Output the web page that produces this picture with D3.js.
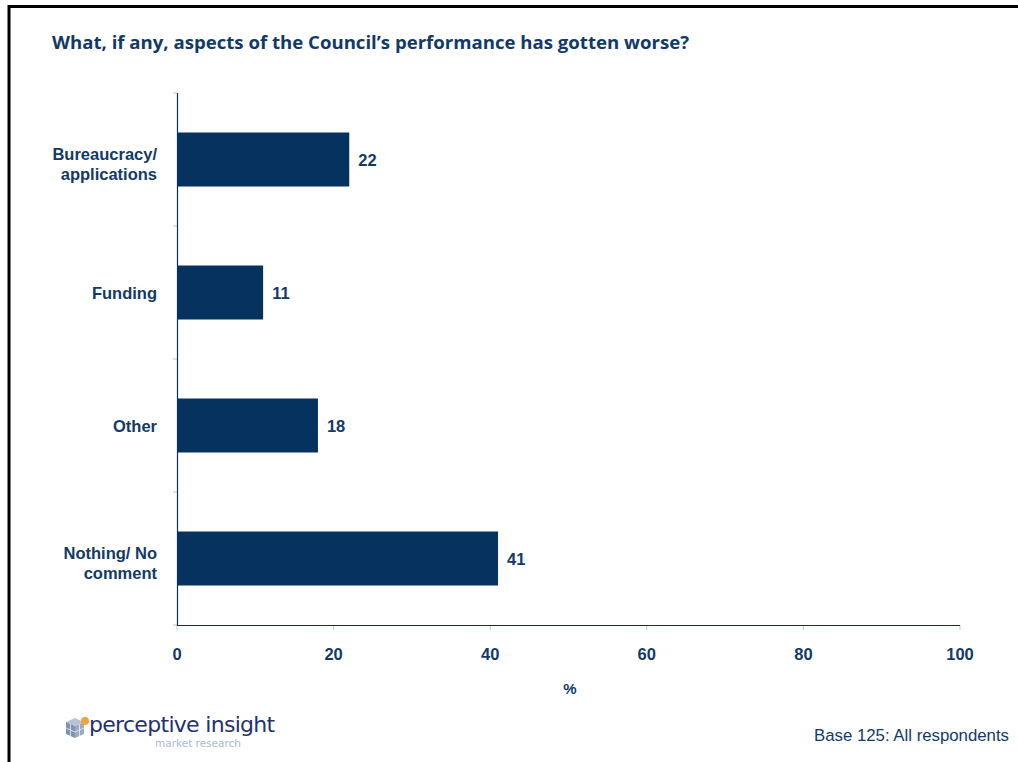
<!DOCTYPE html>
<html>
<head>
<meta charset="utf-8">
<script src="https://cdn.jsdelivr.net/npm/d3@7"></script>
<style>
  html, body { margin: 0; padding: 0; background: #ffffff; }
  svg { display: block; }
</style>
</head>
<body>
<svg id="chart" width="1018" height="762"></svg>
<script>
// Survey responses: aspects of Council performance that have gotten worse (%)
const categories = ["Bureaucracy/\napplications", "Funding", "Other", "Nothing/ No\ncomment"];
const values = [22, 11, 18, 41];
const xTicks = [0, 20, 40, 60, 80, 100];

const navy = "#06325f";
const textNavy = "#123a68";
const tickGrey = "#b9c6d6";

const svg = d3.select("#chart");

// Slide frame (black border along top and left)
svg.append("line").attr("x1", 8).attr("x2", 1018).attr("y1", 6.5).attr("y2", 6.5)
  .attr("stroke", "#000").attr("stroke-width", 3);
svg.append("line").attr("x1", 9).attr("x2", 9).attr("y1", 5).attr("y2", 762)
  .attr("stroke", "#000").attr("stroke-width", 3);

// Question title
svg.append("text")
  .attr("x", 52).attr("y", 49)
  .attr("font-family", "'Open Sans', 'Noto Sans', sans-serif")
  .attr("font-weight", 700).attr("font-size", 18.6)
  .attr("fill", textNavy)
  .text("What, if any, aspects of the Council\u2019s performance has gotten worse?");

const x = d3.scaleLinear().domain([0, 100]).range([177, 960]);
const y = d3.scaleBand().domain(categories).range([93, 625])
  .paddingInner(0.594).paddingOuter(0.297);

// Bars
svg.append("g").selectAll("rect")
  .data(categories)
  .join("rect")
  .attr("x", x(0))
  .attr("y", d => y(d))
  .attr("width", (d, i) => x(values[i]) - x(0))
  .attr("height", y.bandwidth())
  .attr("fill", navy);

// Value labels
svg.append("g").selectAll("text")
  .data(categories)
  .join("text")
  .attr("x", (d, i) => x(values[i]) + 9)
  .attr("y", d => y(d) + y.bandwidth() / 2 + 6)
  .attr("font-family", "'Liberation Sans', Arial, sans-serif")
  .attr("font-weight", 700).attr("font-size", 16.5)
  .attr("fill", textNavy)
  .text((d, i) => values[i]);

// Category axis: ticks at band boundaries
const step = y.step();
const boundaries = d3.range(categories.length + 1).map(i => 93 + i * step);
svg.append("g").selectAll("line")
  .data(boundaries)
  .join("line")
  .attr("x1", 173).attr("x2", 177.5)
  .attr("y1", d => d).attr("y2", d => d)
  .attr("stroke", tickGrey).attr("stroke-width", 1);

// Category labels (right-aligned, possibly two lines)
const catLabels = svg.append("g").selectAll("text")
  .data(categories)
  .join("text")
  .attr("text-anchor", "end")
  .attr("font-family", "'Liberation Sans', Arial, sans-serif")
  .attr("font-weight", 700).attr("font-size", 16.5)
  .attr("fill", textNavy);
catLabels.each(function (d) {
  const lines = d.split("\n");
  const cy = y(d) + y.bandwidth() / 2;
  const lh = 20;
  const shift = lines.length > 1 ? 4 : 0;
  const t = d3.select(this);
  lines.forEach((ln, k) => {
    t.append("tspan")
      .attr("x", 157)
      .attr("y", cy + 6 + shift + (k - (lines.length - 1) / 2) * lh)
      .text(ln);
  });
});

// X axis ticks
svg.append("g").selectAll("line")
  .data(xTicks)
  .join("line")
  .attr("x1", d => x(d)).attr("x2", d => x(d))
  .attr("y1", 625).attr("y2", 630)
  .attr("stroke", tickGrey).attr("stroke-width", 1);

svg.append("g").selectAll("text")
  .data(xTicks)
  .join("text")
  .attr("x", d => x(d))
  .attr("y", 660)
  .attr("text-anchor", "middle")
  .attr("font-family", "'Liberation Sans', Arial, sans-serif")
  .attr("font-weight", 700).attr("font-size", 16.5)
  .attr("fill", textNavy)
  .text(d => d);

// Axis lines
svg.append("line").attr("x1", 177.5).attr("x2", 177.5).attr("y1", 93).attr("y2", 625.5)
  .attr("stroke", navy).attr("stroke-width", 1.2);
svg.append("line").attr("x1", 177).attr("x2", 960).attr("y1", 625.5).attr("y2", 625.5)
  .attr("stroke", navy).attr("stroke-width", 1.2);

// Axis title
svg.append("text")
  .attr("x", 570).attr("y", 694)
  .attr("text-anchor", "middle")
  .attr("font-family", "'Liberation Sans', Arial, sans-serif")
  .attr("font-weight", 700).attr("font-size", 15)
  .attr("fill", textNavy)
  .text("%");

// Base note
svg.append("text")
  .attr("x", 1009).attr("y", 741)
  .attr("text-anchor", "end")
  .attr("font-family", "'Liberation Sans', Arial, sans-serif")
  .attr("font-size", 16.8)
  .attr("fill", textNavy)
  .text("Base 125: All respondents");

// Company logo: stacked cube icon with wordmark
const logo = svg.append("g").attr("transform", "translate(66,717)");
const faces = [
  { pts: "0,5 9,1 18,5 9,9", fill: "#b8c4d4" },
  { pts: "0,5 9,9 9,21 0,17", fill: "#7f93ad" },
  { pts: "9,9 18,5 18,17 9,21", fill: "#9aabc2" }
];
logo.selectAll("polygon").data(faces).join("polygon")
  .attr("points", d => d.pts).attr("fill", d => d.fill);
logo.append("path").attr("d", "M4.5,7 L4.5,19 M0,11 L9,15 L18,11 M13.5,7 L13.5,19")
  .attr("stroke", "#e8edf3").attr("stroke-width", 0.8).attr("fill", "none");
logo.append("circle").attr("cx", 19).attr("cy", 4).attr("r", 4).attr("fill", "#f2a23a");

svg.append("text")
  .attr("x", 89).attr("y", 732)
  .attr("font-family", "'DejaVu Sans', Verdana, sans-serif")
  .attr("font-size", 22)
  .attr("letter-spacing", -0.7)
  .attr("fill", "#25306f")
  .text("perceptive insight");
svg.append("text")
  .attr("x", 155).attr("y", 747)
  .attr("font-family", "'DejaVu Sans', Verdana, sans-serif")
  .attr("font-size", 10.5)
  .attr("fill", "#a7badb")
  .text("market research");
</script>
</body>
</html>
